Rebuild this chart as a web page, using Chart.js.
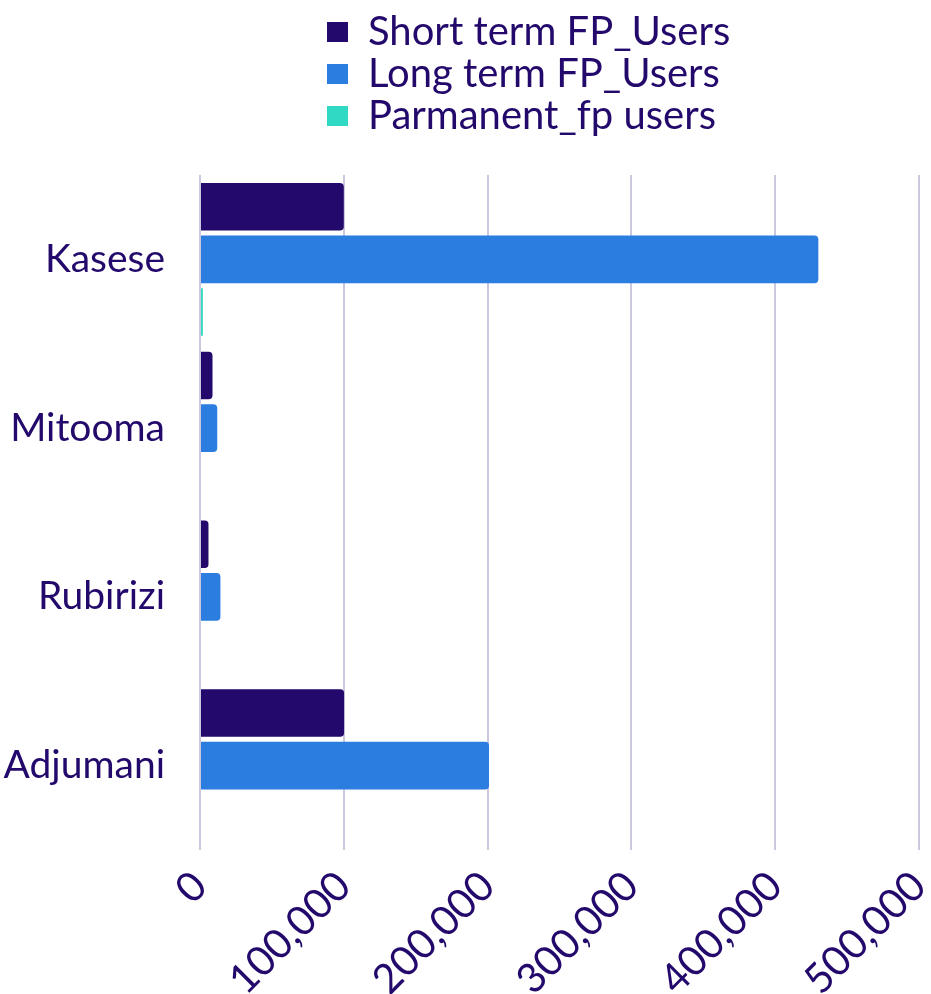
<!DOCTYPE html>
<html lang="en">
<head>
    <meta charset="UTF-8">
    <title>FP Users by District</title>
    <script src="https://cdn.jsdelivr.net/npm/chart.js"></script>
    <style>
        body {
            margin: 0;
            background-color: #ffffff;
        }

        #chart-container {
            width: 931px;
            height: 994px;
        }
    </style>
</head>
<body>
    <div id="chart-container">
        <canvas id="barChart"></canvas>
    </div>

    <script>
        const districts = ['Kasese', 'Mitooma', 'Rubirizi', 'Adjumani'];
        const shortTermUsers = [100000, 8700, 5900, 100200];
        const longTermUsers = [430000, 12000, 14200, 201000];
        const permanentUsers = [2000, 0, 0, 0];
        const xTicks = [0, 100000, 200000, 300000, 400000, 500000];

        const textColor = '#22096b';
        const fontFamily = 'Lato, "Open Sans", sans-serif';

        // legend sits left of centre in the original, move it by hand
        const legendShift = {
            id: 'legendShift',
            beforeInit(chart) {
                const fit = chart.legend.fit;
                chart.legend.fit = function () {
                    fit.bind(chart.legend)();
                    this.height += 29;
                };
            },
            afterLayout(chart) {
                const w = chart.legend.width;
                chart.legend.left = 325;
                chart.legend.right = 325 + w;
            }
        };

        const ctx = document.getElementById('barChart').getContext('2d');

        const chart = new Chart(ctx, {
            type: 'bar',
            data: {
                labels: districts,
                datasets: [
                    {
                        label: 'Short term FP_Users',
                        data: shortTermUsers,
                        backgroundColor: '#23096b',
                        borderWidth: 0,
                        borderRadius: 4
                    },
                    {
                        label: 'Long term FP_Users',
                        data: longTermUsers,
                        backgroundColor: '#2b7de0',
                        borderWidth: 0,
                        borderRadius: 4
                    },
                    {
                        label: 'Parmanent_fp users',
                        data: permanentUsers,
                        backgroundColor: '#2fd9c3',
                        borderWidth: 0,
                        borderRadius: 0
                    }
                ]
            },
            options: {
                indexAxis: 'y',
                responsive: true,
                maintainAspectRatio: false,
                animation: false,
                categoryPercentage: 0.936,
                barPercentage: 0.905,
                layout: {
                    padding: { top: 10, right: 12, bottom: 0, left: 0 }
                },
                plugins: {
                    legend: {
                        position: 'top',
                        align: 'start',
                        fullSize: false,
                        labels: {
                            color: textColor,
                            boxWidth: 21,
                            boxHeight: 20,
                            padding: 2,
                            font: { family: fontFamily, size: 40, lineHeight: 1 }
                        }
                    },
                    tooltip: { enabled: false }
                },
                scales: {
                    x: {
                        min: 0,
                        max: 500000,
                        afterBuildTicks(scale) {
                            scale.ticks = xTicks.map(v => ({ value: v }));
                        },
                        afterFit(scale) {
                            scale.height = 144;
                            scale.paddingRight = 0;
                        },
                        grid: {
                            color: '#cbc7de',
                            lineWidth: 2,
                            drawTicks: false
                        },
                        border: { display: false },
                        ticks: {
                            color: textColor,
                            minRotation: 45,
                            maxRotation: 45,
                            padding: 12,
                            font: { family: fontFamily, size: 41 },
                            callback: v => v.toLocaleString('en-US')
                        }
                    },
                    y: {
                        afterFit(scale) {
                            scale.width = 200;
                        },
                        grid: { display: false },
                        border: { display: false },
                        ticks: {
                            color: textColor,
                            padding: 27,
                            font: { family: fontFamily, size: 39 }
                        }
                    }
                }
            },
            plugins: [legendShift]
        });
    </script>
</body>
</html>
